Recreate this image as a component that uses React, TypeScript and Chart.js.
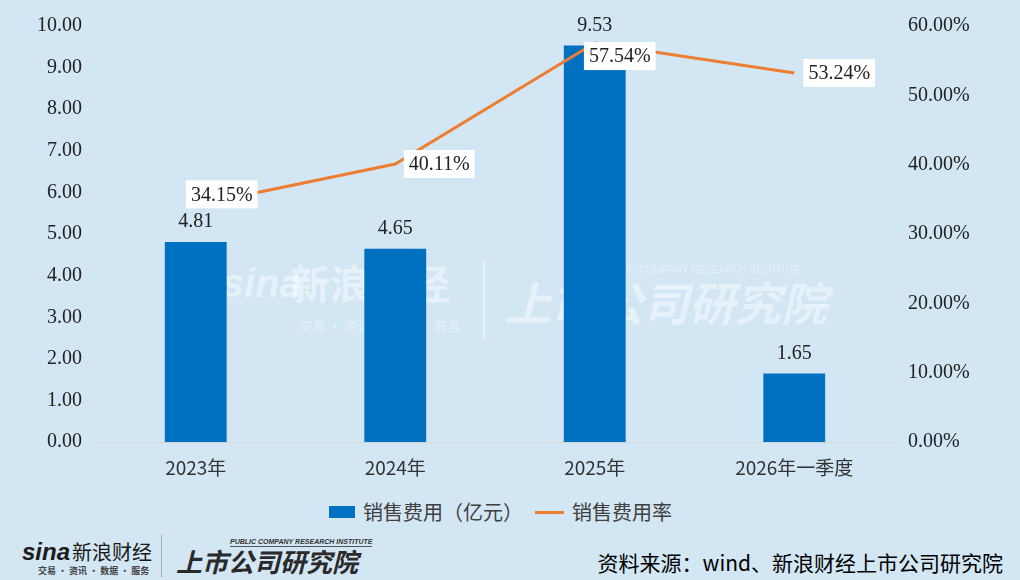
import { useEffect, useRef } from 'react';
import { Chart, registerables } from 'chart.js';

Chart.register(...registerables);

const categories = ['2023年', '2024年', '2025年', '2026年一季度'];
const salesExpense = [4.81, 4.65, 9.53, 1.65];
const salesRate = [34.15, 40.11, 57.54, 53.24];
const leftTicks = [0, 1, 2, 3, 4, 5, 6, 7, 8, 9, 10];
const rightTicks = [0, 10, 20, 30, 40, 50, 60];

const BG = '#D2E6F4';
const BLUE = '#0070C0';
const ORANGE = '#ED7D31';
const NUM_FONT = '"Liberation Serif", "Noto Sans CJK SC", serif';
const CJK_FONT = '"Noto Sans CJK SC", sans-serif';

// where each rate label box sits relative to its point
const rateLabelShift = [
  [26, -11],
  [44, 0],
  [25, 13],
  [45, 0],
];

const labelPlugin = {
  id: 'valueLabels',
  beforeDatasetsDraw(chart: Chart) {
    // faint watermark behind the bars
    const ctx = chart.ctx;
    ctx.save();
    ctx.fillStyle = 'rgba(255,255,255,0.45)';
    ctx.textBaseline = 'middle';
    ctx.font = 'italic bold 40px "Liberation Sans", sans-serif';
    ctx.fillText('sina', 222, 286);
    ctx.font = 'bold 40px ' + CJK_FONT;
    ctx.fillText('新浪财经', 290, 284);
    ctx.font = '13px ' + CJK_FONT;
    ctx.fillText('交易 · 资讯 · 数据 · 服务', 300, 326);
    ctx.fillRect(483, 262, 2, 76);
    ctx.font = 'italic bold 46px ' + CJK_FONT;
    ctx.fillText('上市公司研究院', 505, 304);
    ctx.font = '10px "Liberation Sans", sans-serif';
    ctx.fillText('PUBLIC COMPANY RESEARCH INSTITUTE', 600, 270);
    ctx.restore();
  },
  afterDatasetsDraw(chart: Chart) {
    const ctx = chart.ctx;
    ctx.save();
    ctx.font = '20px ' + NUM_FONT;
    ctx.textAlign = 'center';
    ctx.textBaseline = 'middle';

    const barMeta = chart.getDatasetMeta(0);
    barMeta.data.forEach((bar: any, i: number) => {
      ctx.fillStyle = '#222';
      ctx.fillText(salesExpense[i].toFixed(2), bar.x, bar.y - 20);
    });

    const lineMeta = chart.getDatasetMeta(1);
    lineMeta.data.forEach((pt: any, i: number) => {
      const text = salesRate[i].toFixed(2) + '%';
      const cx = pt.x + rateLabelShift[i][0];
      const cy = pt.y + rateLabelShift[i][1];
      const w = ctx.measureText(text).width + 10;
      const h = 28;
      ctx.fillStyle = '#ffffff';
      ctx.fillRect(cx - w / 2, cy - h / 2, w, h);
      ctx.fillStyle = '#222';
      ctx.fillText(text, cx, cy + 1);
    });
    ctx.restore();
  },
};

function SalesExpenseChart() {
  const ref = useRef<HTMLCanvasElement>(null);
  const chartRef = useRef<Chart | null>(null);

  useEffect(() => {
    if (!ref.current) return;
    document.body.style.margin = '0';

    chartRef.current?.destroy();
    chartRef.current = new Chart(ref.current, {
      type: 'bar',
      data: {
        labels: categories,
        datasets: [
          {
            type: 'bar',
            label: '销售费用（亿元）',
            data: salesExpense,
            backgroundColor: BLUE,
            barPercentage: 0.62,
            categoryPercentage: 0.5,
            yAxisID: 'y',
            order: 1,
          },
          {
            type: 'line',
            label: '销售费用率',
            data: salesRate,
            borderColor: ORANGE,
            borderWidth: 3,
            pointRadius: 0,
            tension: 0,
            yAxisID: 'y1',
            order: 0,
          },
        ] as any,
      },
      options: {
        responsive: true, maintainAspectRatio: false, animation: false,
        layout: { padding: { top: 22, left: 0, right: 0, bottom: 0 } },
        plugins: { legend: { display: false }, tooltip: { enabled: false } },
        scales: {
          x: {
            grid: { display: false, drawTicks: false },
            border: { display: true, color: '#D9D9D9', width: 1 },
            ticks: { color: '#333', padding: 14, font: { family: '"Liberation Sans Narrow", ' + CJK_FONT, size: 19 } },
          },
          y: {
            position: 'left', min: 0, max: 10,
            grid: { display: false, drawTicks: false },
            border: { display: false },
            afterFit: (s: any) => { s.width = 96; },
            afterBuildTicks: (s: any) => { s.ticks = leftTicks.map((v) => ({ value: v })); },
            ticks: { color: '#222', padding: 14, font: { family: NUM_FONT, size: 20 }, callback: (v: any) => Number(v).toFixed(2) },
          },
          y1: {
            position: 'right', min: 0, max: 60,
            grid: { display: false, drawTicks: false },
            border: { display: false },
            afterFit: (s: any) => { s.width = 126; },
            afterBuildTicks: (s: any) => { s.ticks = rightTicks.map((v) => ({ value: v })); },
            ticks: { color: '#222', padding: 14, font: { family: NUM_FONT, size: 20 }, callback: (v: any) => Number(v).toFixed(2) + '%' },
          },
        },
      },
      plugins: [labelPlugin],
    });
    return () => { chartRef.current?.destroy(); };
  }, []);

  return (
    <div style={{ position: 'absolute', left: 0, top: 0, width: 1020, height: 493 }}>
      <canvas ref={ref} />
    </div>
  );
}

export default function App() {
  return (
    <div style={{ position: 'fixed', left: 0, top: 0, width: 1020, height: 580, background: BG, overflow: 'hidden', fontFamily: CJK_FONT }}>
      <SalesExpenseChart />
      <div style={{ position: 'absolute', top: 498, left: 0, width: 1001, display: 'flex', justifyContent: 'center', alignItems: 'center', fontSize: 20, color: '#404040', lineHeight: '28px' }}>
        <span style={{ display: 'inline-block', width: 26, height: 12, background: BLUE, marginRight: 8 }} />
        <span>销售费用（亿元）</span>
        <span style={{ display: 'inline-block', width: 29, height: 3, background: ORANGE, margin: '0 8px 0 12px' }} />
        <span>销售费用率</span>
      </div>
      <div style={{ position: 'absolute', left: 22, top: 540, width: 140, lineHeight: 1, whiteSpace: 'nowrap' }}>
        <span style={{ fontFamily: '"Liberation Sans", sans-serif', fontStyle: 'italic', fontWeight: 'bold', fontSize: 24, color: '#1a1a1a' }}>sina</span>
        <span style={{ fontSize: 20, color: '#1a1a1a', marginLeft: 2 }}>新浪财经</span>
        <div style={{ fontSize: 9, color: '#444', marginLeft: 16, marginTop: 2, fontWeight: 'bold' }}>交易 · 资讯 · 数据 · 服务</div>
      </div>
      <div style={{ position: 'absolute', left: 161, top: 535, width: 1, height: 42, background: '#aaa' }} />
      <div style={{ position: 'absolute', left: 176, top: 538, lineHeight: 1, whiteSpace: 'nowrap' }}>
        <div style={{ fontFamily: '"Liberation Sans", sans-serif', fontStyle: 'italic', fontWeight: 'bold', fontSize: 7, color: '#333', marginLeft: 54, borderBottom: '1px solid #555', paddingBottom: 1 }}>PUBLIC COMPANY RESEARCH INSTITUTE</div>
        <div style={{ fontStyle: 'italic', fontWeight: 'bold', fontSize: 26, color: '#2a2a2a', marginTop: 1 }}>上市公司研究院</div>
      </div>
      <div style={{ position: 'absolute', right: 17, top: 550, fontSize: 21, color: '#000', lineHeight: 1.2 }}>
        资料来源：wind、新浪财经上市公司研究院
      </div>
    </div>
  );
}
